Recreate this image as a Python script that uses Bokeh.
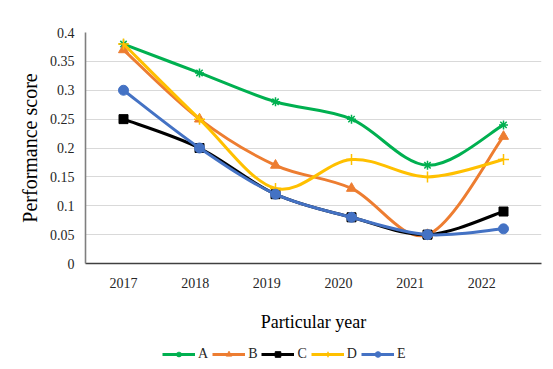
from bokeh.plotting import figure
from bokeh.models import (Range1d, FixedTicker, Legend, LegendItem)
from bokeh.layouts import column
from bokeh.embed import file_html
from bokeh.resources import INLINE

years = ["2017", "2018", "2019", "2020", "2021", "2022"]
series_names = ["A", "B", "C", "D", "E"]
A = [0.38, 0.33, 0.28, 0.25, 0.17, 0.24]
B = [0.37, 0.25, 0.17, 0.13, 0.05, 0.22]
C = [0.25, 0.20, 0.12, 0.08, 0.05, 0.09]
D = [0.38, 0.25, 0.13, 0.18, 0.15, 0.18]
E = [0.30, 0.20, 0.12, 0.08, 0.05, 0.06]
y_ticks = [0, 0.05, 0.1, 0.15, 0.2, 0.25, 0.3, 0.35, 0.4]

colors = ["#00B050", "#ED7D31", "#000000", "#FFC000", "#4472C4"]
markers = ["asterisk", "triangle", "square", "cross", "circle"]
msizes = [9, 10, 9, 11, 10]
FONT = "Liberation Serif"

xs = [i + 0.5 for i in range(len(years))]

p = figure(width=553, height=338, output_backend="svg", toolbar_location=None,
           x_range=Range1d(0, len(years)), y_range=Range1d(0, 0.4),
           min_border_left=85, min_border_right=12, min_border_top=32,
           min_border_bottom=75)
p.outline_line_color = None
p.background_fill_color = "white"
p.border_fill_color = "white"

# grid
p.xgrid.visible = False
p.ygrid.grid_line_color = "#D9D9D9"
p.ygrid.grid_line_width = 1.2
p.ygrid.ticker = FixedTicker(ticks=y_ticks)

# y axis
p.yaxis.ticker = FixedTicker(ticks=y_ticks)
p.yaxis.major_label_overrides = {t: ("0" if t == 0 else ("%g" % t)) for t in y_ticks}
p.yaxis.axis_line_color = "#7F7F7F"
p.yaxis.axis_line_width = 1.6
p.yaxis.major_tick_line_color = None
p.yaxis.minor_tick_line_color = None
p.yaxis.major_label_text_font = FONT
p.yaxis.major_label_text_font_size = "14px"
p.yaxis.major_label_text_color = "#262626"
p.yaxis.major_label_standoff = 5
p.yaxis.axis_label = "Performance score"
p.yaxis.axis_label_text_font = FONT
p.yaxis.axis_label_text_font_size = "20px"
p.yaxis.axis_label_text_font_style = "normal"
p.yaxis.axis_label_text_color = "#000000"
p.yaxis.axis_label_standoff = 6

# x axis (labels sit slightly left of the points, as in the source)
label_pos = [0.5 + i * 0.943 for i in range(len(years))]
p.xaxis.ticker = FixedTicker(ticks=label_pos)
p.xaxis.major_label_overrides = {lp: y for lp, y in zip(label_pos, years)}
p.xaxis.axis_line_color = "#404040"
p.xaxis.axis_line_width = 1.6
p.xaxis.major_tick_line_color = None
p.xaxis.minor_tick_line_color = None
p.xaxis.major_tick_out = 0
p.xaxis.major_label_text_font = FONT
p.xaxis.major_label_text_font_size = "14px"
p.xaxis.major_label_text_color = "#262626"
p.xaxis.major_label_standoff = 14
p.xaxis.axis_label = "Particular year"
p.xaxis.axis_label_text_font = FONT
p.xaxis.axis_label_text_font_size = "18px"
p.xaxis.axis_label_text_font_style = "normal"
p.xaxis.axis_label_text_color = "#000000"
p.xaxis.axis_label_standoff = 21


def smooth_segments(x, y):
    n = len(x)
    out = dict(x0=[], y0=[], x1=[], y1=[], cx0=[], cy0=[], cx1=[], cy1=[])
    for i in range(n - 1):
        xm, ym = x[max(i - 1, 0)], y[max(i - 1, 0)]
        xp, yp = x[min(i + 2, n - 1)], y[min(i + 2, n - 1)]
        out["x0"].append(x[i]); out["y0"].append(y[i])
        out["x1"].append(x[i + 1]); out["y1"].append(y[i + 1])
        out["cx0"].append(x[i] + (x[i + 1] - xm) / 6.0)
        out["cy0"].append(y[i] + (y[i + 1] - ym) / 6.0)
        out["cx1"].append(x[i + 1] - (xp - x[i]) / 6.0)
        out["cy1"].append(y[i + 1] - (yp - y[i]) / 6.0)
    return out


# legend strip: a small figure that carries the same series (outside its view)
leg_fig = figure(width=553, height=31, output_backend="svg", toolbar_location=None,
                 x_range=Range1d(0, len(years)), y_range=Range1d(1, 2),
                 x_axis_type=None, y_axis_type=None,
                 min_border_left=16, min_border_right=12, min_border_top=0,
                 min_border_bottom=0)
leg_fig.outline_line_color = None
leg_fig.xgrid.visible = False
leg_fig.ygrid.visible = False

items = []
for name, vals, col, mk, ms in zip(series_names, [A, B, C, D, E], colors, markers, msizes):
    seg = smooth_segments(xs, vals)
    lw = 1.5 if mk in ("asterisk", "cross") else 1
    p.bezier(line_color=col, line_width=3, **seg)
    p.scatter(xs, vals, marker=mk, size=ms, fill_color=col, line_color=col, line_width=lw)
    lbz = leg_fig.bezier(line_color=col, line_width=3, **seg)
    lsc = leg_fig.scatter(xs, vals, marker=mk, size=ms - 1, fill_color=col,
                          line_color=col, line_width=lw)
    items.append(LegendItem(label=name, renderers=[lbz, lsc]))

legend = Legend(items=items, orientation="horizontal", nrows=1,
                location="center_left",
                glyph_width=33, glyph_height=14, label_height=14, label_width=8,
                label_standoff=3, spacing=4,
                padding=0, margin=77, border_line_color=None,
                background_fill_alpha=0,
                label_text_font=FONT, label_text_font_size="14px",
                label_text_color="#262626")
leg_fig.add_layout(legend, "center")

page = column(p, leg_fig, spacing=0)
open("out.html", "w").write(file_html(page, INLINE))
